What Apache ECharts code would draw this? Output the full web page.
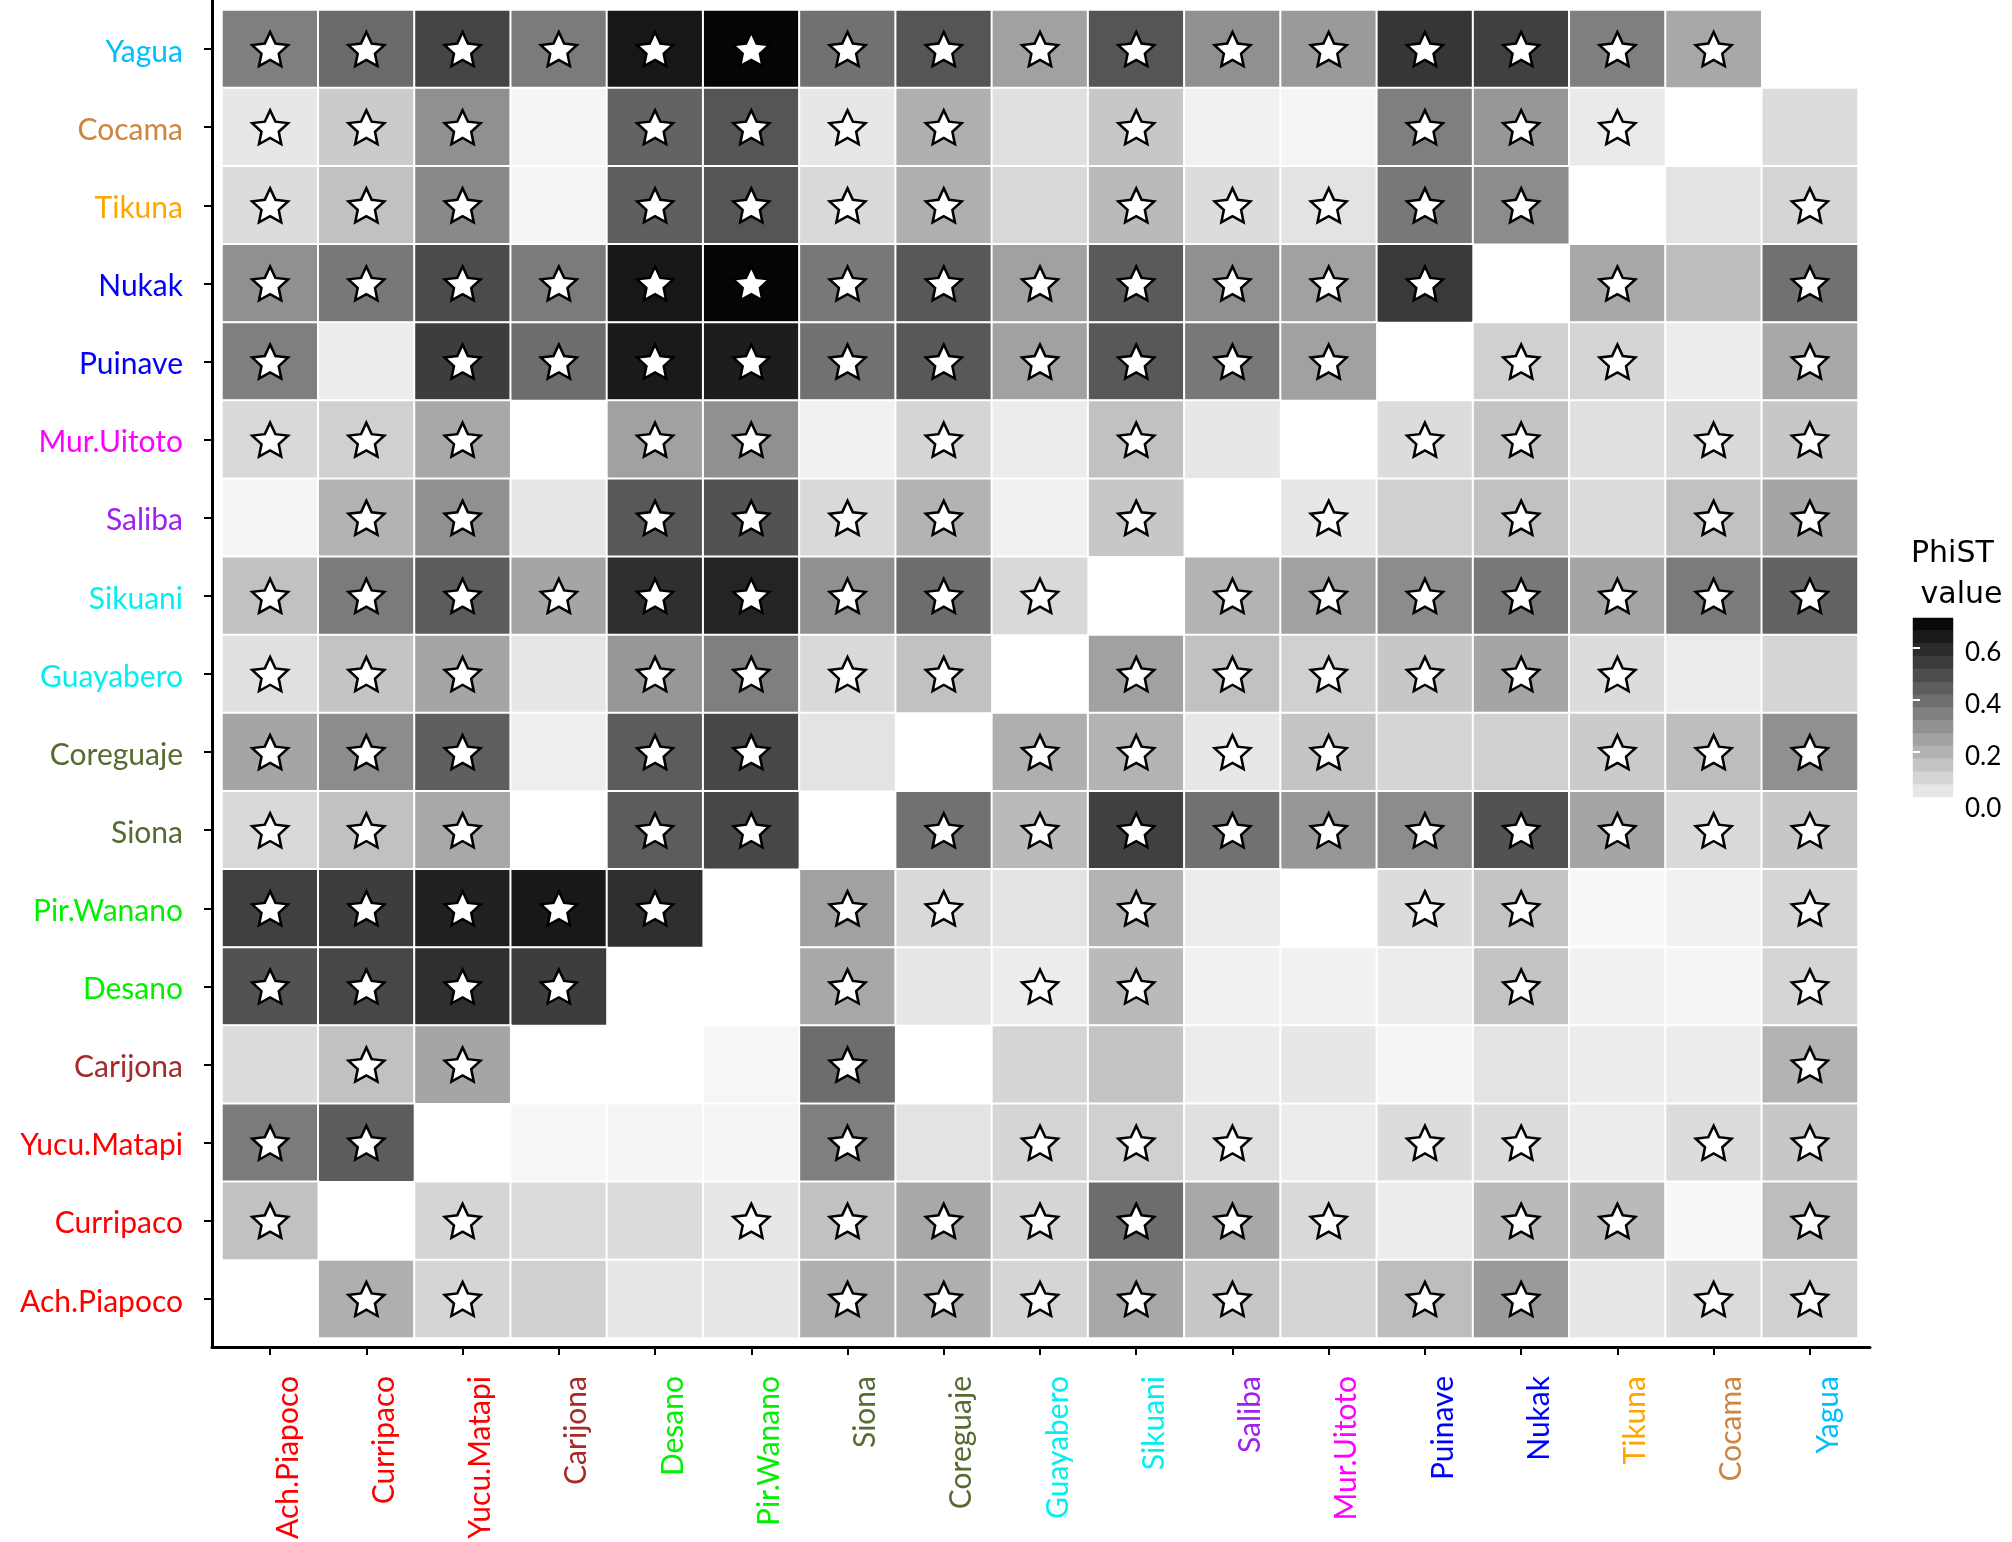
<!DOCTYPE html>
<html><head><meta charset="utf-8">
<script src="https://cdn.jsdelivr.net/npm/echarts@6/dist/echarts.min.js"></script>
<style>html,body{margin:0;padding:0;background:#fff}#chart{width:2012px;height:1542px}</style>
</head><body><div id="chart"></div>
<script>
// ---- categories ----
const columns = ['Ach.Piapoco','Curripaco','Yucu.Matapi','Carijona','Desano','Pir.Wanano','Siona','Coreguaje','Guayabero','Sikuani','Saliba','Mur.Uitoto','Puinave','Nukak','Tikuna','Cocama','Yagua'];
const rows = ['Yagua','Cocama','Tikuna','Nukak','Puinave','Mur.Uitoto','Saliba','Sikuani','Guayabero','Coreguaje','Siona','Pir.Wanano','Desano','Carijona','Yucu.Matapi','Curripaco','Ach.Piapoco'];

// ---- PhiST values per row (columns order), null = not drawn ----
const phiYagua      = [0.35,0.41,0.52,0.36,0.65,0.70,0.39,0.47,0.25,0.47,0.30,0.27,0.56,0.53,0.35,0.23,null];
const phiCocama     = [0.05,0.13,0.30,0.01,0.43,0.47,0.05,0.21,0.07,0.14,0.02,0.01,0.35,0.28,0.04,null,0.08];
const phiTikuna     = [0.08,0.16,0.32,0.01,0.44,0.47,0.09,0.21,0.09,0.18,0.08,0.06,0.37,0.31,null,0.06,0.10];
const phiNukak      = [0.30,0.37,0.50,0.36,0.65,0.70,0.37,0.46,0.25,0.455,0.30,0.25,0.55,null,0.23,0.17,0.39];
const phiPuinave    = [0.35,0.035,0.54,0.40,0.64,0.63,0.39,0.46,0.25,0.46,0.37,0.25,null,0.115,0.10,0.035,0.23];
const phiMurUitoto  = [0.09,0.115,0.23,null,0.25,0.30,0.02,0.10,0.035,0.16,0.05,null,0.08,0.15,0.07,0.09,0.14];
const phiSaliba     = [0.01,0.20,0.30,0.05,0.46,0.48,0.09,0.20,0.02,0.14,null,0.05,0.115,0.16,0.08,0.16,0.24];
const phiSikuani    = [0.16,0.36,0.45,0.24,0.58,0.61,0.30,0.40,0.09,null,0.20,0.25,0.31,0.37,0.24,0.36,0.43];
const phiGuayabero  = [0.07,0.15,0.24,0.05,0.28,0.35,0.09,0.16,null,0.25,0.16,0.115,0.14,0.24,0.08,0.035,0.10];
const phiCoreguaje  = [0.24,0.31,0.44,0.03,0.45,0.51,0.06,null,0.21,0.20,0.05,0.15,0.10,0.115,0.13,0.17,0.30];
const phiSiona      = [0.09,0.16,0.23,null,0.45,0.51,null,0.39,0.18,0.53,0.39,0.28,0.31,0.48,0.24,0.09,0.14];
const phiPirWanano  = [0.53,0.54,0.62,0.645,0.58,null,0.25,0.09,0.06,0.20,0.035,null,0.08,0.15,0.00,0.02,0.10];
const phiDesano     = [0.48,0.51,0.58,0.54,null,null,0.23,0.05,0.035,0.18,0.02,0.02,0.035,0.15,0.02,0.01,0.10];
const phiCarijona   = [0.08,0.16,0.24,null,null,0.005,0.40,null,0.10,0.15,0.035,0.05,0.01,0.06,0.035,0.035,0.20];
const phiYucuMatapi = [0.36,0.45,null,0.005,0.01,0.01,0.35,0.06,0.10,0.115,0.07,0.035,0.08,0.08,0.035,0.08,0.14];
const phiCurripaco  = [0.16,null,0.10,0.08,0.08,0.05,0.16,0.23,0.10,0.40,0.23,0.09,0.035,0.18,0.18,0.00,0.17];
const phiAchPiapoco = [null,0.21,0.10,0.115,0.05,0.05,0.21,0.21,0.10,0.23,0.145,0.10,0.17,0.27,0.05,0.08,0.115];

// ---- significance stars per row (1 = star) ----
const starYagua      = [1,1,1,1,1,1,1,1,1,1,1,1,1,1,1,1,0];
const starCocama     = [1,1,1,0,1,1,1,1,0,1,0,0,1,1,1,0,0];
const starTikuna     = [1,1,1,0,1,1,1,1,0,1,1,1,1,1,0,0,1];
const starNukak      = [1,1,1,1,1,1,1,1,1,1,1,1,1,0,1,0,1];
const starPuinave    = [1,0,1,1,1,1,1,1,1,1,1,1,0,1,1,0,1];
const starMurUitoto  = [1,1,1,0,1,1,0,1,0,1,0,0,1,1,0,1,1];
const starSaliba     = [0,1,1,0,1,1,1,1,0,1,0,1,0,1,0,1,1];
const starSikuani    = [1,1,1,1,1,1,1,1,1,0,1,1,1,1,1,1,1];
const starGuayabero  = [1,1,1,0,1,1,1,1,0,1,1,1,1,1,1,0,0];
const starCoreguaje  = [1,1,1,0,1,1,0,0,1,1,1,1,0,0,1,1,1];
const starSiona      = [1,1,1,0,1,1,0,1,1,1,1,1,1,1,1,1,1];
const starPirWanano  = [1,1,1,1,1,0,1,1,0,1,0,0,1,1,0,0,1];
const starDesano     = [1,1,1,1,0,0,1,0,1,1,0,0,0,1,0,0,1];
const starCarijona   = [0,1,1,0,0,0,1,0,0,0,0,0,0,0,0,0,1];
const starYucuMatapi = [1,1,0,0,0,0,1,0,1,1,1,0,1,1,0,1,1];
const starCurripaco  = [1,0,1,0,0,1,1,1,1,1,1,1,0,1,1,0,1];
const starAchPiapoco = [0,1,1,0,0,0,1,1,1,1,1,0,1,1,0,1,1];

// ---- legend ----
const legendTicks = [0, 0.2, 0.4, 0.6];
const legendRange = [0.027, 0.715];
const legendBins = 14;
const scaleMin = 0, scaleMax = 0.715;

// ---- styles ----
const groupColor = {
  'Yagua':'#00BFFF','Cocama':'#CD853F','Tikuna':'#FFA500','Nukak':'#0000FF','Puinave':'#0000FF',
  'Mur.Uitoto':'#FF00FF','Saliba':'#A020F0','Sikuani':'#00F0F0','Guayabero':'#00F0F0',
  'Coreguaje':'#556B2F','Siona':'#556B2F','Pir.Wanano':'#00F000','Desano':'#00F000',
  'Carijona':'#A52A2A','Yucu.Matapi':'#FF0000','Curripaco':'#FF0000','Ach.Piapoco':'#FF0000'
};
const lowColor = [248,248,248], highColor = [0,0,0];
const FONT = 'Lato';

const valueRows = [phiYagua,phiCocama,phiTikuna,phiNukak,phiPuinave,phiMurUitoto,phiSaliba,phiSikuani,phiGuayabero,phiCoreguaje,phiSiona,phiPirWanano,phiDesano,phiCarijona,phiYucuMatapi,phiCurripaco,phiAchPiapoco];
const starRows = [starYagua,starCocama,starTikuna,starNukak,starPuinave,starMurUitoto,starSaliba,starSikuani,starGuayabero,starCoreguaje,starSiona,starPirWanano,starDesano,starCarijona,starYucuMatapi,starCurripaco,starAchPiapoco];

const heatData = [], starData = [];
valueRows.forEach((r, yi) => r.forEach((v, xi) => { if (v !== null) heatData.push([xi, yi, v]); }));
starRows.forEach((r, yi) => r.forEach((s, xi) => { if (s) starData.push([xi, yi]); }));

function scaleColor(v) {
  const t = Math.max(0, Math.min(1, (v - scaleMin) / (scaleMax - scaleMin)));
  const c = lowColor.map((l, i) => Math.round(l + (highColor[i] - l) * t));
  return 'rgb(' + c.join(',') + ')';
}
const binStep = (legendRange[1] - legendRange[0]) / legendBins;
const binData = [];
for (let i = 0; i < legendBins; i++) {
  const lo = legendRange[0] + i * binStep, hi = lo + binStep;
  binData.push([lo, hi, (lo + hi) / 2]);
}

const starPath = 'path://M50,0 L64.11,30.58 L97.55,34.55 L72.83,57.42 L79.39,90.45 L50,74 L20.61,90.45 L27.17,57.42 L2.45,34.55 L35.89,30.58 Z';

const chart = echarts.init(document.getElementById('chart'), null, {renderer: 'canvas'});
chart.setOption({
  animation: false,
  backgroundColor: '#ffffff',
  title: {
    text: 'PhiST\n value', left: 1911, top: 534, padding: 0,
    textStyle: {fontFamily: 'DejaVu Sans', fontSize: 30, fontWeight: 'normal', color: '#000', lineHeight: 41}
  },
  grid: [
    {left: 222, top: 10, right: 154, bottom: 204},
    {left: 1913, top: 618, width: 40, height: 186},
    {left: 212, top: 0, right: 142, bottom: 195}
  ],
  xAxis: [
    {
      type: 'category', data: columns, gridIndex: 0, position: 'bottom', offset: 9,
      axisLine: {show: false},
      axisTick: {show: true, alignWithLabel: true, length: 8, lineStyle: {color: '#000', width: 2}},
      axisLabel: {rotate: 90, margin: 29, verticalAlign: 'top', padding: [3, 0, 0, 0], fontFamily: FONT, fontSize: 30,
        color: (v) => groupColor[v]},
      splitLine: {show: false}
    },
    {type: 'value', gridIndex: 1, min: 0, max: 1, show: false},
    {type: 'value', gridIndex: 2, min: 0, max: 1, axisLine: {show: true, lineStyle: {color: '#000', width: 3}},
      axisTick: {show: false}, axisLabel: {show: false}, splitLine: {show: false}}
  ],
  yAxis: [
    {
      type: 'category', data: rows, gridIndex: 0, inverse: true, position: 'left', offset: 9,
      axisLine: {show: false},
      axisTick: {show: true, alignWithLabel: true, length: 9, lineStyle: {color: '#000', width: 2}},
      axisLabel: {margin: 30, verticalAlign: 'top', lineHeight: 6, fontFamily: FONT, fontSize: 30,
        color: (v) => groupColor[v]},
      splitLine: {show: false}
    },
    {
      type: 'value', gridIndex: 1, min: scaleMin, max: scaleMax, position: 'right', z: 10,
      axisLine: {show: false},
      axisTick: {show: true, inside: true, length: 7, customValues: legendTicks, lineStyle: {color: '#ffffff', width: 2}},
      axisLabel: {show: true, margin: 12, verticalAlign: 'top', lineHeight: 10, customValues: legendTicks,
        fontFamily: FONT, fontSize: 26, color: '#000',
        formatter: (v) => v.toFixed(1)},
      splitLine: {show: false}
    },
    {
      type: 'value', gridIndex: 1, min: scaleMin, max: scaleMax, position: 'left', z: 10,
      axisLine: {show: false},
      axisTick: {show: true, inside: true, length: 7, customValues: legendTicks, lineStyle: {color: '#ffffff', width: 2}},
      axisLabel: {show: false}, splitLine: {show: false}
    },
    {type: 'value', gridIndex: 2, min: 0, max: 1, axisLine: {show: true, lineStyle: {color: '#000', width: 3}},
      axisTick: {show: false}, axisLabel: {show: false}, splitLine: {show: false}}
  ],
  visualMap: {
    type: 'continuous', show: false, min: scaleMin, max: scaleMax, seriesIndex: 0, dimension: 2,
    inRange: {color: ['#f8f8f8', '#000000']}
  },
  series: [
    {
      type: 'heatmap', xAxisIndex: 0, yAxisIndex: 0, data: heatData, z: 2,
      itemStyle: {borderColor: '#ffffff', borderWidth: 2},
      emphasis: {disabled: true}, label: {show: false}
    },
    {
      type: 'scatter', xAxisIndex: 0, yAxisIndex: 0, data: starData, z: 3,
      symbol: starPath, symbolSize: [36, 34],
      itemStyle: {color: '#ffffff', borderColor: '#000000', borderWidth: 2.5, opacity: 1},
      emphasis: {disabled: true}
    },
    {
      type: 'custom', xAxisIndex: 1, yAxisIndex: 1, data: binData, z: 2, clip: false,
      encode: {y: [0, 1]},
      renderItem: function (params, api) {
        const p0 = api.coord([0, api.value(1)]);
        const p1 = api.coord([1, api.value(0)]);
        const col = scaleColor(api.value(2));
        return {type: 'rect', shape: {x: p0[0], y: p0[1], width: p1[0] - p0[0], height: p1[1] - p0[1]},
          style: {fill: col, stroke: col, lineWidth: 0.5}};
      }
    }
  ]
});
</script>
</body></html>
